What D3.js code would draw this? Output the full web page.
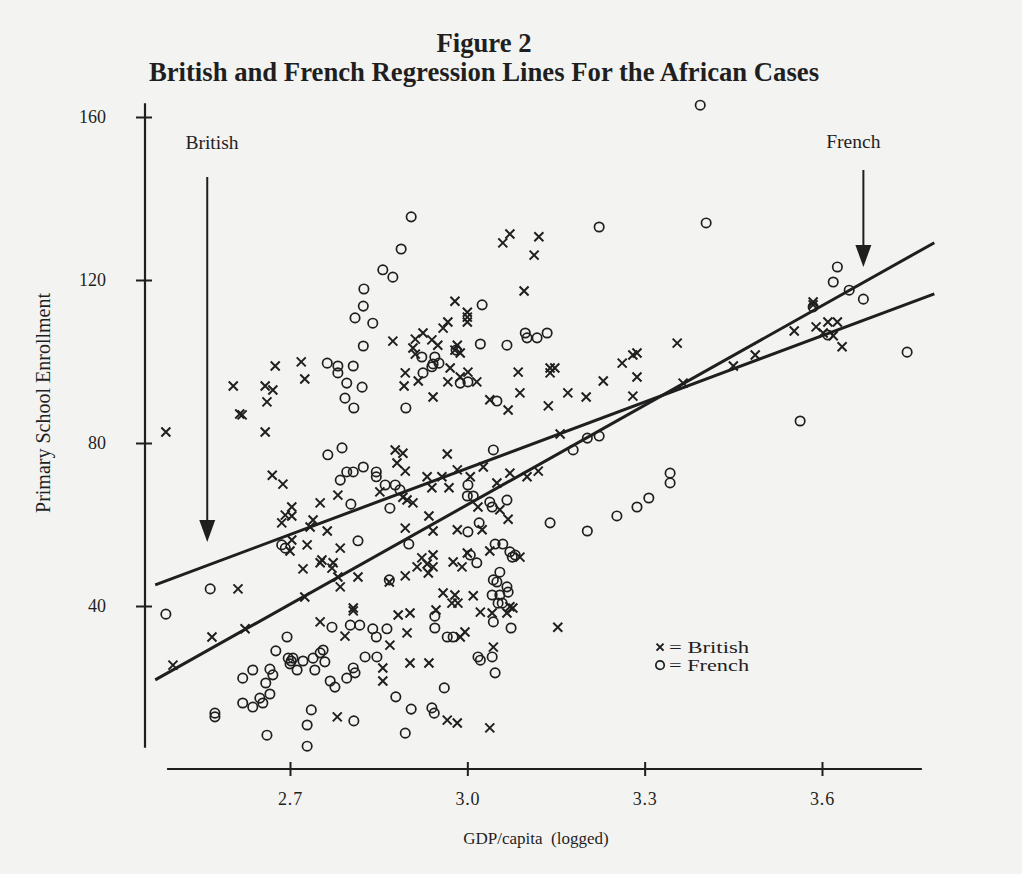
<!DOCTYPE html>
<html>
<head>
<meta charset="utf-8">
<script src="https://cdn.jsdelivr.net/npm/d3@7"></script>
<style>
  html, body { margin: 0; padding: 0; background: #f3f3f1; }
  svg { display: block; font-family: "Liberation Serif", "Times New Roman", serif; }
</style>
</head>
<body>
<svg id="chart" width="1022" height="874"></svg>
<script>
// GDP/capita (logged), primary school enrollment
const british = [
  [2.490,82.7],[2.604,94.0],[2.658,94.0],[2.671,93.0],[2.661,90.1],[2.615,87.1],[2.619,86.9],[2.658,82.7],
  [2.675,98.9],[2.719,99.9],[2.725,95.7],[2.670,72.1],[2.688,69.9],[2.881,75.1],[2.895,73.1],[2.852,68.0],
  [2.891,66.7],[2.898,66.0],[2.781,67.2],[2.751,65.3],[2.703,64.3],[2.692,62.3],[2.703,62.1],[2.686,60.4],
  [2.739,61.1],[2.734,59.4],[2.763,58.4],[2.703,56.2],[2.700,53.5],[2.729,55.0],[2.785,54.2],[2.722,49.1],
  [2.754,51.3],[2.751,50.6],[2.773,50.6],[2.771,49.3],[2.781,47.1],[2.815,47.1],[2.785,44.7],[2.725,42.2],
  [2.895,59.1],[2.895,47.4],[2.807,39.5],[2.612,44.2],[2.568,32.4],[2.624,34.4],[2.502,25.5],[2.751,36.1],
  [2.793,32.6],[2.807,38.8],[2.868,45.9],[2.883,37.8],[2.903,38.3],[2.898,33.4],[2.869,30.4],[2.857,24.8],
  [2.857,21.6],[2.780,12.8],[2.874,105.0],[2.895,97.2],[2.893,94.0],[2.878,78.3],[2.891,77.5],
  [3.072,131.3],[3.060,129.1],[3.121,130.6],[3.113,126.1],[3.096,117.3],[2.979,114.8],[3.000,112.1],
  [3.000,110.9],[3.000,109.7],[2.967,109.7],[2.959,108.2],[2.925,107.0],[2.912,105.5],[2.940,105.3],
  [2.950,104.0],[2.908,103.3],[2.912,101.8],[2.983,104.0],[2.979,102.8],[2.988,102.1],[2.917,95.2],
  [2.971,98.4],[2.967,95.0],[2.988,96.2],[3.001,97.4],[3.016,95.0],[2.942,91.3],[3.086,97.4],
  [3.140,98.4],[3.148,98.4],[3.140,97.2],[3.089,92.3],[3.038,90.6],[3.069,88.1],[3.137,89.1],
  [3.170,92.3],[3.201,91.3],[3.230,95.2],[3.262,99.6],[3.280,101.6],[3.287,102.1],[3.287,96.2],
  [3.280,91.5],[3.355,104.5],[3.157,82.2],[2.966,77.3],[2.932,71.7],[2.957,71.7],[2.940,69.0],
  [2.969,69.0],[2.983,73.4],[3.005,71.7],[3.027,74.1],[3.050,70.2],[3.072,72.6],[3.101,71.7],
  [3.120,73.1],[3.018,64.3],[3.055,63.6],[3.069,61.3],[2.908,65.3],[2.935,62.1],[2.942,58.4],
  [2.983,58.7],[3.025,58.7],[3.038,53.5],[3.089,52.0],[2.923,51.8],[2.942,52.5],[2.915,49.6],
  [2.932,50.3],[2.942,49.6],[2.934,48.1],[2.976,50.8],[2.991,49.6],[3.000,53.0],[2.959,43.2],
  [2.979,42.7],[2.974,40.7],[2.984,40.7],[3.010,42.5],[3.022,38.5],[3.042,38.3],[3.067,38.3],
  [3.072,39.8],[3.077,39.5],[2.947,39.0],[2.988,32.4],[2.996,33.6],[3.044,29.9],[2.903,26.0],
  [2.935,26.0],[2.966,12.0],[2.983,11.3],[3.038,10.1],[3.153,34.8],[3.585,114.6],[3.585,113.9],
  [3.553,107.5],[3.590,108.5],[3.610,109.7],[3.626,109.7],[3.602,107.0],[3.619,106.3],[3.634,103.6],
  [3.487,101.6],[3.450,98.9],[3.365,94.7]
];
const french = [
  [2.490,38.0],[2.565,44.2],[2.573,13.7],[2.573,12.8],[2.620,22.3],[2.637,24.3],[2.666,24.5],[2.671,23.1],
  [2.659,21.1],[2.666,18.4],[2.649,17.4],[2.620,16.2],[2.637,15.2],[2.654,16.2],[2.661,8.3],[2.695,32.4],
  [2.676,29.0],[2.697,27.2],[2.702,26.5],[2.705,27.2],[2.700,25.8],[2.722,26.5],[2.712,24.3],[2.739,27.2],
  [2.751,28.5],[2.756,29.2],[2.759,26.3],[2.742,24.3],[2.771,34.8],[2.802,35.3],[2.818,35.3],[2.840,34.4],
  [2.846,32.4],[2.864,34.4],[2.827,27.5],[2.847,27.5],[2.807,24.8],[2.810,23.6],[2.796,22.3],[2.768,21.6],
  [2.776,20.1],[2.736,14.5],[2.729,10.8],[2.729,5.6],[2.808,11.8],[2.879,17.7],[2.895,8.8],[2.868,46.4],
  [2.686,55.0],[2.692,54.2],[2.815,56.0],[2.901,55.2],[2.764,77.1],[2.788,78.8],[2.796,72.9],[2.807,72.9],
  [2.824,74.1],[2.846,72.9],[2.846,71.7],[2.785,70.9],[2.803,65.0],[2.861,69.7],[2.878,69.7],[2.886,68.5],
  [2.869,64.0],[2.763,99.6],[2.781,98.9],[2.807,98.9],[2.781,97.2],[2.796,94.7],[2.822,93.7],[2.793,91.0],
  [2.808,88.6],[2.824,103.8],[2.896,88.6],[2.888,127.6],[2.905,135.5],[2.857,122.5],[2.874,120.7],
  [2.825,117.8],[2.824,113.6],[2.810,110.7],[2.840,109.4],[3.025,113.9],[3.022,104.3],[3.067,104.0],
  [3.098,107.0],[3.101,105.8],[3.118,105.8],[3.135,107.0],[2.981,102.8],[2.923,101.1],[2.945,101.1],
  [2.942,99.4],[2.940,98.7],[2.952,99.6],[2.925,97.2],[2.988,94.7],[3.001,95.0],[3.050,90.3],
  [3.223,133.0],[3.044,78.3],[3.179,78.3],[3.203,81.2],[3.223,81.7],[3.343,72.6],[3.343,70.2],
  [3.307,66.5],[3.287,64.3],[3.253,62.1],[3.140,60.4],[3.203,58.4],[3.001,69.7],[3.000,67.0],
  [3.010,67.0],[3.038,65.5],[3.042,64.3],[3.067,66.0],[3.001,58.2],[3.020,60.4],[3.047,55.2],
  [3.060,55.2],[3.072,53.3],[3.076,52.0],[3.081,52.5],[3.005,52.5],[3.016,50.6],[3.044,46.4],
  [3.055,48.3],[3.050,45.9],[3.067,44.7],[3.042,42.7],[3.055,42.7],[3.052,40.7],[3.059,40.7],
  [3.069,43.4],[3.044,36.1],[3.074,34.6],[2.945,37.5],[2.945,34.6],[2.966,32.4],[2.976,32.4],
  [3.018,27.5],[3.022,26.7],[3.042,27.5],[3.047,23.6],[2.961,19.9],[2.905,14.7],[2.940,15.0],
  [2.944,13.7],[3.394,162.9],[3.404,134.0],[3.626,123.2],[3.619,119.5],[3.646,117.5],[3.670,115.3],
  [3.585,113.4],[3.610,106.5],[3.744,102.3],[3.563,85.4]
];

// regression fits: enrollment = intercept + slope * gdp
const fitNames = ["British", "French"];
const fitIntercepts = [-88.81, -179.35];
const fitSlopes = [54.2, 81.4];
const fitGdpRange = [2.472, 3.790];

const xTicks = [2.7, 3.0, 3.3, 3.6];
const yTicks = [40, 80, 120, 160];
const xAxisExtent = [2.492, 3.769];
const yAxisExtent = [5.2, 163.4];

const ink = "#1f1f1f";
const svg = d3.select("#chart");

const x = d3.scaleLinear().domain([2.7, 3.6]).range([290, 822]);
const y = d3.scaleLinear().domain([40, 160]).range([606, 117]);

// titles
svg.append("text").attr("x", 484).attr("y", 52).attr("text-anchor", "middle")
  .attr("font-weight", "bold").attr("font-size", 26.7).attr("fill", ink).text("Figure 2");
svg.append("text").attr("x", 484).attr("y", 81).attr("text-anchor", "middle")
  .attr("font-weight", "bold").attr("font-size", 26.7).attr("fill", ink)
  .text("British and French Regression Lines For the African Cases");

// y axis
const yAxisX = 145;
const yAxis = svg.append("g").attr("transform", `translate(${yAxisX},0)`)
  .call(d3.axisLeft(y).tickValues(yTicks).tickSize(9).tickPadding(0));
yAxis.select(".domain").remove();
yAxis.append("line").attr("x1", 0).attr("x2", 0)
  .attr("y1", y(yAxisExtent[1])).attr("y2", y(yAxisExtent[0]))
  .attr("stroke", ink).attr("stroke-width", 2.2);
yAxis.selectAll(".tick line").attr("x1", -9).attr("x2", 7).attr("stroke", ink).attr("stroke-width", 2);
yAxis.selectAll(".tick text").attr("x", -39).attr("font-size", 18)
  .attr("font-family", "Liberation Serif").attr("fill", ink);

// x axis
const xAxisY = y(0);
const xAxis = svg.append("g").attr("transform", `translate(0,${xAxisY})`)
  .call(d3.axisBottom(x).tickValues(xTicks).tickFormat(d3.format(".1f")).tickSize(7));
xAxis.select(".domain").remove();
xAxis.append("line").attr("y1", 0).attr("y2", 0)
  .attr("x1", x(xAxisExtent[0])).attr("x2", x(xAxisExtent[1]))
  .attr("stroke", ink).attr("stroke-width", 2.2);
xAxis.selectAll(".tick line").attr("y1", -7).attr("y2", 7).attr("stroke", ink).attr("stroke-width", 2);
xAxis.selectAll(".tick text").attr("y", 23).attr("font-size", 18)
  .attr("font-family", "Liberation Serif").attr("fill", ink).attr("letter-spacing", 0.8);

// axis titles
svg.append("text").attr("x", 536).attr("y", 844).attr("text-anchor", "middle")
  .attr("font-size", 17).attr("fill", ink).attr("xml:space", "preserve").text("GDP/capita  (logged)");
svg.append("text").attr("transform", "translate(50,403) rotate(-90)").attr("text-anchor", "middle")
  .attr("font-size", 20).attr("fill", ink).text("Primary School Enrollment");

// regression lines
const fitLine = d3.line().x(d => x(d[0])).y(d => y(d[1]));
fitNames.forEach((name, i) => {
  const pts = fitGdpRange.map(g => [g, fitIntercepts[i] + fitSlopes[i] * g]);
  svg.append("path").attr("d", fitLine(pts)).attr("fill", "none")
    .attr("stroke", ink).attr("stroke-width", 3);
});

// points
const crossPath = "M-4.5,-4.5L4.5,4.5M-4.5,4.5L4.5,-4.5";
svg.append("g").selectAll("path").data(british).join("path")
  .attr("transform", d => `translate(${x(d[0])},${y(d[1])})`)
  .attr("d", crossPath).attr("fill", "none").attr("stroke", ink).attr("stroke-width", 2);
svg.append("g").selectAll("circle").data(french).join("circle")
  .attr("cx", d => x(d[0])).attr("cy", d => y(d[1])).attr("r", 4.7)
  .attr("fill", "none").attr("stroke", ink).attr("stroke-width", 1.7);

// arrow annotations
const arrows = [
  { label: "British", gdp: 2.560, from: 145.3, to: 55.7, labelGdp: 2.568, labelY: 153.6 },
  { label: "French", gdp: 3.670, from: 147.0, to: 123.2, labelGdp: 3.653, labelY: 153.9 }
];
arrows.forEach(a => {
  const ax = x(a.gdp), y0 = y(a.from), y1 = y(a.to);
  svg.append("line").attr("x1", ax).attr("x2", ax).attr("y1", y0).attr("y2", y1 - 20)
    .attr("stroke", ink).attr("stroke-width", 2);
  svg.append("path").attr("d", `M${ax - 8},${y1 - 22}L${ax + 8},${y1 - 22}L${ax},${y1}Z`).attr("fill", ink);
  svg.append("text").attr("x", x(a.labelGdp)).attr("y", y(a.labelY) + 6).attr("text-anchor", "middle")
    .attr("font-size", 19.5).attr("fill", ink).text(a.label);
});

// legend
const legX = x(3.326), legY = y(29.9);
const leg = svg.append("g").attr("transform", `translate(${legX},${legY})`);
leg.append("path").attr("d", "M-3.5,-3.5L3.5,3.5M-3.5,3.5L3.5,-3.5").attr("stroke", ink).attr("stroke-width", 2);
leg.append("text").attr("x", 9).attr("y", 5.5).attr("font-size", 16.5).attr("fill", ink)
  .attr("textLength", 80).attr("lengthAdjust", "spacingAndGlyphs").text("= British");
leg.append("circle").attr("cx", 0).attr("cy", 18).attr("r", 4.2).attr("fill", "none").attr("stroke", ink).attr("stroke-width", 1.7);
leg.append("text").attr("x", 9).attr("y", 23.5).attr("font-size", 16.5).attr("fill", ink)
  .attr("textLength", 80).attr("lengthAdjust", "spacingAndGlyphs").text("= French");
</script>
</body>
</html>
